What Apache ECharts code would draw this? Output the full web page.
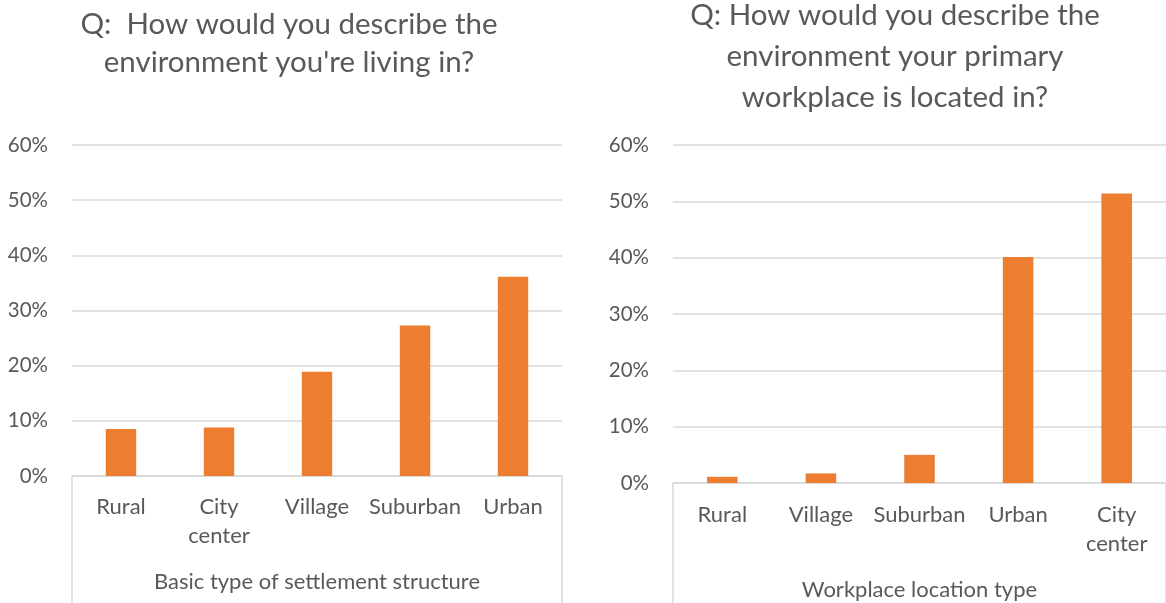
<!DOCTYPE html>
<html>
<head>
<meta charset="utf-8">
<script src="https://cdn.jsdelivr.net/npm/echarts@6/dist/echarts.min.js"></script>
<style>
  html, body { margin: 0; padding: 0; background: #fff; }
  #chart { width: 1166px; height: 603px; }
</style>
</head>
<body>
<div id="chart"></div>
<script>
// Living environment (share of respondents, %)
const homeCategories = ['Rural', 'City\ncenter', 'Village', 'Suburban', 'Urban'];
const homeValues = [8.5, 8.8, 18.9, 27.3, 36.1];
const homeGroup = ['Basic type of settlement structure'];
const homeTitle = "Q:  How would you describe the\nenvironment you're living in?";

// Primary workplace environment (share of respondents, %)
const workCategories = ['Rural', 'Village', 'Suburban', 'Urban', 'City\ncenter'];
const workValues = [1.1, 1.7, 5.0, 40.1, 51.4];
const workGroup = ['Workplace location type'];
const workTitle = 'Q: How would you describe the\nenvironment your primary\nworkplace is located in?';

// Shared value-axis settings
const axisMin = 0, axisMax = 60, axisStep = 10;

const FONT = 'Lato';
const TEXT = '#595959';
const LINE = '#d9d9d9';
const BAR = '#ED7D31';

function valueAxis(gridIndex) {
  return {
    type: 'value', gridIndex, min: axisMin, max: axisMax, interval: axisStep,
    axisLine: { show: false }, axisTick: { show: false },
    axisLabel: { formatter: '{value}%', color: TEXT, fontFamily: FONT, fontSize: 20.5, margin: 24 },
    splitLine: { lineStyle: { color: LINE, width: 1.5 } }
  };
}
function categoryAxis(gridIndex, data, margin) {
  return {
    type: 'category', gridIndex, data, position: 'bottom',
    axisLine: { lineStyle: { color: LINE, width: 1.5 } },
    axisTick: { show: false },
    axisLabel: { color: TEXT, fontFamily: FONT, fontSize: 22, margin, lineHeight: 29, interval: 0 }
  };
}
// Outer group level: one category spanning the plot, its boundary ticks form the frame
function groupAxis(gridIndex, data, margin) {
  return {
    type: 'category', gridIndex, data, position: 'bottom',
    axisLine: { show: false },
    axisTick: { show: true, length: 140, lineStyle: { color: LINE, width: 1.5 } },
    axisLabel: { color: TEXT, fontFamily: FONT, fontSize: 22, margin }
  };
}

const chart = echarts.init(document.getElementById('chart'), null, { renderer: 'canvas' });
chart.setOption({
  animation: false,
  backgroundColor: '#fff',
  title: [
    { text: homeTitle, left: 289, top: 5, padding: 0, textAlign: 'center',
      textStyle: { color: TEXT, fontFamily: FONT, fontSize: 29.5, fontWeight: 'normal', lineHeight: 38 } },
    { text: workTitle, left: 895, top: -5, padding: 0, textAlign: 'center',
      textStyle: { color: TEXT, fontFamily: FONT, fontSize: 29.5, fontWeight: 'normal', lineHeight: 41 } }
  ],
  grid: [
    { left: 72, top: 145, width: 490, height: 331 },
    { left: 673, top: 145, width: 495, height: 338 }
  ],
  xAxis: [
    categoryAxis(0, homeCategories, 16),
    groupAxis(0, homeGroup, 95),
    categoryAxis(1, workCategories, 17),
    groupAxis(1, workGroup, 96)
  ],
  yAxis: [valueAxis(0), valueAxis(1)],
  series: [
    { type: 'bar', xAxisIndex: 0, yAxisIndex: 0, data: homeValues, barWidth: '31%',
      itemStyle: { color: BAR } },
    { type: 'bar', xAxisIndex: 2, yAxisIndex: 1, data: workValues, barWidth: '31%',
      itemStyle: { color: BAR } }
  ]
});
</script>
</body>
</html>
